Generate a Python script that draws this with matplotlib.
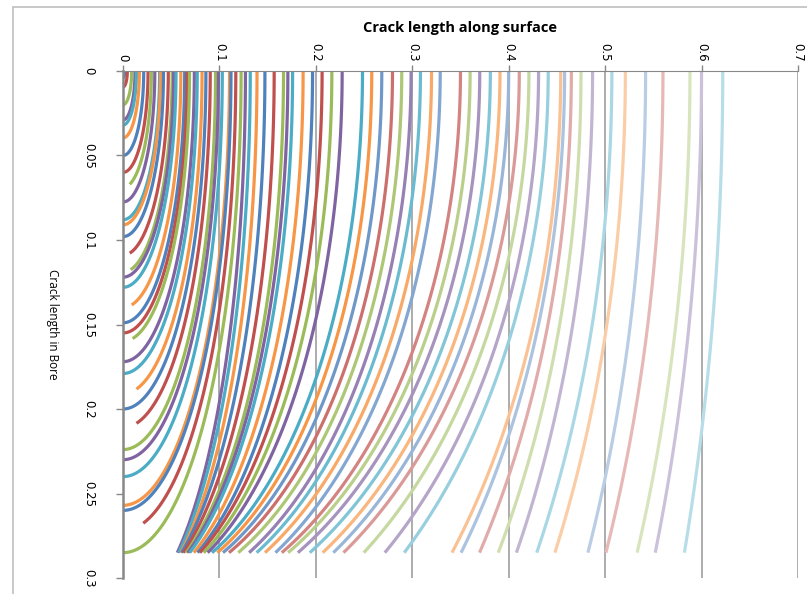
import numpy as np
import matplotlib
matplotlib.use("Agg")
import matplotlib.pyplot as plt
from matplotlib.patches import Rectangle
from matplotlib.colors import to_rgb

# crack fronts: length along surface (a) and length in bore (c)
surface_len = [0.002, 0.0045, 0.009, 0.0125, 0.014, 0.017, 0.0215, 0.026, 0.0295, 0.033,
               0.038, 0.039, 0.042, 0.047, 0.051, 0.0525, 0.055, 0.060, 0.064, 0.0665,
               0.069, 0.074, 0.077, 0.082, 0.086, 0.0905, 0.096, 0.099, 0.103, 0.1105,
               0.112, 0.117, 0.1225, 0.127, 0.132, 0.139, 0.1472, 0.1568, 0.1665, 0.171,
               0.1759, 0.1868, 0.1966, 0.2065, 0.2166, 0.2273, 0.2484, 0.258, 0.2684, 0.2795,
               0.2891, 0.2988, 0.3085, 0.320, 0.329, 0.350, 0.360, 0.370, 0.381, 0.391,
               0.400, 0.411, 0.421, 0.431, 0.441, 0.454, 0.458, 0.465, 0.475, 0.487,
               0.507, 0.521, 0.542, 0.560, 0.588, 0.600, 0.622]
bore_len = [0.004, 0.0095, 0.020, 0.029, 0.032, 0.0396, 0.050, 0.060, 0.069, 0.0775,
            0.088, 0.091, 0.098, 0.109, 0.119, 0.122, 0.128, 0.140, 0.149, 0.155,
            0.160, 0.172, 0.179, 0.191, 0.200, 0.211, 0.224, 0.230, 0.240, 0.257,
            0.260, 0.272, 0.285, 0.318, 0.317, 0.316, 0.313, 0.311, 0.310, 0.310,
            0.310, 0.310, 0.310, 0.309, 0.309, 0.309, 0.307, 0.308, 0.309, 0.310,
            0.313, 0.317, 0.319, 0.321, 0.325, 0.323, 0.324, 0.327, 0.331, 0.336,
            0.340, 0.343, 0.354, 0.367, 0.380, 0.432, 0.443, 0.470, 0.497, 0.522,
            0.535, 0.558, 0.624, 0.637, 0.676, 0.727, 0.81]
# last plotted point of fronts that stop short of the bore axis
end_x = {9: 0.007, 14: 0.007, 15: 0.008, 18: 0.009, 21: 0.010, 24: 0.014, 26: 0.014, 32: 0.021}
wall = 0.285

base_colors = ['#4F81BD', '#C0504D', '#9BBB59', '#8064A2', '#4BACC6', '#F79646']
group_light = [0, 0, 0, 0, 0, 0, 0, 0, 0.18, 0.3, 0.42, 0.52, 0.6]

fig = plt.figure(figsize=(8.07, 5.94), dpi=100)
ax = fig.add_axes([0.1524, 0.0269, 0.8364, 0.8536])

for i, (a, c) in enumerate(zip(surface_len, bore_len)):
    tmax = np.pi / 2
    if c > wall:
        tmax = np.arcsin(wall / c)
    if (i + 1) in end_x:
        tmax = min(tmax, np.arccos(end_x[i + 1] / a))
    t = np.linspace(0, tmax, 80)
    rgb = np.array(to_rgb(base_colors[i % 6]))
    k = group_light[i // 6]
    col = rgb + (1 - rgb) * k
    ax.plot(a * np.cos(t), c * np.sin(t), color=col, lw=2.3, solid_capstyle='butt')

ax.set_xlim(0, 0.7)
ax.set_ylim(0.3, 0)
ax.set_xticks(np.arange(0, 0.71, 0.1))
ax.set_xticklabels(['0', '0.1', '0.2', '0.3', '0.4', '0.5', '0.6', '0.7'], rotation=-90)
ax.set_yticks(np.arange(0, 0.301, 0.05))
ax.set_yticklabels(['0', '0.05', '0.1', '0.15', '0.2', '0.25', '0.3'], rotation=-90, va='center')
ax.xaxis.tick_top()
ax.xaxis.set_label_position('top')
ax.tick_params(axis='x', colors='#888888', labelcolor='black', length=4, width=1, labelsize=8.5, pad=3)
ax.tick_params(axis='y', colors='#888888', labelcolor='black', length=5, width=1, labelsize=8.5, pad=20)
for lab in ax.get_yticklabels():
    lab.set_ha('center')
ax.grid(axis='x', color='#A6A6A6', lw=1.3)
ax.set_axisbelow(True)
for s in ['bottom', 'right']:
    ax.spines[s].set_visible(False)
ax.spines['top'].set_color('#888888')
ax.spines['left'].set_color('#888888')
ax.spines['left'].set_linewidth(1.8)

ax.set_xlabel('Crack length along surface', fontsize=10.5, fontweight='bold', family='Open Sans', labelpad=8)
ax.set_ylabel('Crack length in Bore', fontsize=8.5, rotation=-90, family='Open Sans', labelpad=26)

fig.patches.append(Rectangle((13 / 807, -0.2), 1.2, 1.2 - 7 / 594, transform=fig.transFigure,
                             fill=False, ec='#BFBFBF', lw=1.2))

fig.savefig('out.png', dpi=100)
